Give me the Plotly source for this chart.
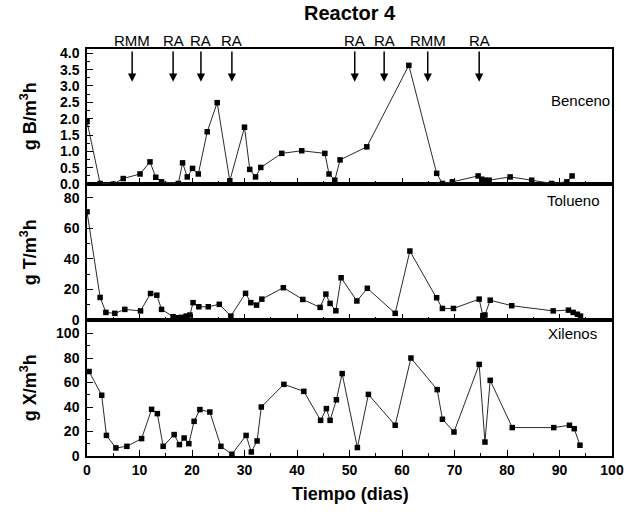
import plotly.graph_objects as go

# ---------------- data ----------------
days_b = [0, 2.5, 5.0, 6.9, 10.1, 12.0, 13.1, 14.2, 17.4, 18.2, 19.1, 20.1, 21.2, 22.9, 24.8, 27.2,
          30.0, 31.0, 32.1, 33.1, 37.1, 40.9, 45.3, 46.1, 47.2, 48.2, 53.3, 61.3, 66.6, 67.7, 69.6,
          74.5, 75.2, 75.8, 76.6, 80.6, 84.7, 88.5, 91.4, 92.4]
benceno = [1.91, 0.02, 0.0, 0.17, 0.31, 0.68, 0.21, 0.07, 0.02, 0.65, 0.22, 0.48, 0.31, 1.6, 2.49, 0.1,
           1.74, 0.45, 0.22, 0.51, 0.94, 1.02, 0.94, 0.31, 0.12, 0.74, 1.14, 3.63, 0.33, 0.02, 0.07,
           0.25, 0.15, 0.12, 0.12, 0.22, 0.12, 0.02, 0.07, 0.25]

days_t = [0, 2.5, 3.6, 5.3, 7.2, 10.2, 12.1, 13.3, 14.2, 16.4, 17.4, 18.0, 18.9, 19.6, 20.2, 21.3,
          23.1, 25.2, 27.4, 30.2, 31.2, 32.3, 33.3, 37.4, 41.1, 44.4, 45.5, 46.3, 47.4, 48.4, 51.4,
          53.4, 58.7, 61.5, 66.6, 67.7, 69.8, 74.7, 75.4, 75.8, 76.8, 80.9, 88.8, 91.7, 92.6, 93.4, 94.0]
tolueno = [70.9, 14.8, 5, 4.4, 7, 6, 17.4, 16.3, 7, 2.2, 1.5, 1.8, 2.6, 3.3, 11.4, 8.7,
           8.7, 10.3, 2.6, 17.5, 11.4, 9.8, 13.7, 21.2, 13.5, 8.3, 17, 10.9, 6.1, 27.7, 12.5,
           20.8, 4.4, 45.2, 14.6, 7.6, 7.6, 13.7, 2.9, 3.3, 13, 9.4, 6, 6.5, 5, 3.8, 2.6]

days_x = [0.4, 2.8, 3.7, 5.5, 7.6, 10.4, 12.3, 13.4, 14.5, 16.6, 17.6, 18.5, 19.4, 20.4, 21.5, 23.4,
          25.5, 27.6, 30.3, 31.3, 32.4, 33.2, 37.5, 41.3, 44.5, 45.6, 46.3, 47.5, 48.6, 51.5, 53.6,
          58.7, 61.7, 66.7, 67.7, 69.9, 74.7, 75.8, 76.8, 81.0, 88.9, 91.9, 92.8, 93.9]
xilenos = [69, 49.6, 16.8, 6.6, 7.9, 14.2, 38.1, 34.6, 7.9, 17.5, 9.3, 14.7, 10.1, 28.3, 37.9, 35.9,
           7.9, 1.4, 16.8, 3.3, 12.3, 40, 58.5, 52.8, 29.1, 38.7, 29.1, 45.9, 67.3, 6.9, 50.3,
           25.1, 80, 54.2, 30, 19.6, 74.8, 11.4, 61.8, 23.2, 23.2, 25.1, 22.3, 8.8]

event_days = [8.6, 16.4, 21.7, 27.6, 51.0, 56.6, 64.9, 74.7]
event_labels = ["RMM", "RA", "RA", "RA", "RA", "RA", "RMM", "RA"]

x_ticks = [0, 10, 20, 30, 40, 50, 60, 70, 80, 90, 100]
b_ticks = [0.0, 0.5, 1.0, 1.5, 2.0, 2.5, 3.0, 3.5, 4.0]
t_ticks = [0, 20, 40, 60, 80]
x_ticks_y = [0, 20, 40, 60, 80, 100]

# ---------------- figure ----------------
FONT = "Arial, Liberation Sans, sans-serif"
fig = go.Figure()

line_style = dict(color="#2a2a2a", width=1)
marker_style = dict(symbol="square", size=5.5, color="black")

fig.add_trace(go.Scatter(x=days_b, y=benceno, mode="lines+markers", line=line_style,
                         marker=marker_style, xaxis="x3", yaxis="y3", showlegend=False))
fig.add_trace(go.Scatter(x=days_t, y=tolueno, mode="lines+markers", line=line_style,
                         marker=marker_style, xaxis="x2", yaxis="y2", showlegend=False))
fig.add_trace(go.Scatter(x=days_x, y=xilenos, mode="lines+markers", line=line_style,
                         marker=marker_style, xaxis="x", yaxis="y", showlegend=False))

xtickfont = dict(family=FONT, size=14, color="black", weight="bold")
ytickfont = dict(family=FONT, size=14, color="black", weight="bold")
titlefont = dict(family=FONT, size=18, color="black", weight="bold")
minor_style = dict(ticks="inside", ticklen=3, tickcolor="black", tickwidth=1)

xcommon = dict(range=[0, 100], tickvals=x_ticks, ticks="inside", ticklen=6, tickwidth=1.3,
               tickcolor="black", showline=True, linecolor="black", linewidth=1.5, mirror=True,
               showgrid=False, zeroline=False, automargin=False,
               minor=dict(dtick=5, **minor_style))
ycommon = dict(ticks="inside", ticklen=6, tickwidth=1.3, tickcolor="black", showline=True,
               linecolor="black", linewidth=1.5, mirror=True, showgrid=False, zeroline=False,
               tickfont=ytickfont, automargin=False, ticklabelstandoff=3)

fig.update_layout(
    width=629, height=515,
    margin=dict(l=87, r=17, t=49, b=59),
    paper_bgcolor="white", plot_bgcolor="white",
    font=dict(family=FONT, color="black"),
    xaxis=dict(**xcommon, anchor="y", domain=[0, 1], tickfont=xtickfont),
    xaxis2=dict(**xcommon, anchor="y2", domain=[0, 1], matches="x", showticklabels=False),
    xaxis3=dict(**xcommon, anchor="y3", domain=[0, 1], matches="x", showticklabels=False),
    yaxis=dict(**ycommon, domain=[0, 0.334], range=[0, 111], tickvals=x_ticks_y,
               minor=dict(dtick=10, **minor_style)),
    yaxis2=dict(**ycommon, domain=[0.334, 0.668], range=[0, 89], tickvals=t_ticks,
                minor=dict(dtick=10, **minor_style)),
    yaxis3=dict(**ycommon, domain=[0.668, 1], range=[0, 4.13], tickvals=b_ticks,
                tickformat=".1f", minor=dict(dtick=0.25, **minor_style)),
)

annotations = []
for d, lbl in zip(event_days, event_labels):
    annotations.append(dict(x=d, y=3.13, xref="x3", yref="y3", ax=d, ay=4.1, axref="x3",
                            ayref="y3", text="", showarrow=True, arrowhead=2, arrowsize=1.1,
                            arrowwidth=1.5, arrowcolor="black"))
    annotations.append(dict(x=d, y=4.13, xref="x3", yref="y3", text=lbl, showarrow=False,
                            yanchor="bottom", yshift=-2,
                            font=dict(family=FONT, size=15, color="black")))

annotations.append(dict(x=100, y=2.55, xref="x3", yref="y3", text="Benceno", showarrow=False,
                        xanchor="right", yanchor="middle",
                        font=dict(family=FONT, size=15, color="black")))
annotations.append(dict(x=98, y=78.4, xref="x2", yref="y2", text="Tolueno", showarrow=False,
                        xanchor="right", yanchor="middle",
                        font=dict(family=FONT, size=15, color="black")))
annotations.append(dict(x=97.5, y=100.4, xref="x", yref="y", text="Xilenos", showarrow=False,
                        xanchor="right", yanchor="middle",
                        font=dict(family=FONT, size=15, color="black")))

# axis titles
ytitles = ["g B/m<sup>3</sup>h", "g T/m<sup>3</sup>h", "g X/m<sup>3</sup>h"]
ytitle_centers = [0.835, 0.501, 0.167]
for t, yc in zip(ytitles, ytitle_centers):
    annotations.append(dict(x=-0.112, y=yc, xref="paper", yref="paper", text=t, showarrow=False,
                            textangle=-90, xanchor="center", yanchor="middle", font=titlefont))
annotations.append(dict(x=0.501, y=-0.093, xref="paper", yref="paper", text="Tiempo (dias)",
                        showarrow=False, xanchor="center", yanchor="middle", font=titlefont))
annotations.append(dict(x=0.501, y=1.089, xref="paper", yref="paper", text="Reactor 4",
                        showarrow=False, xanchor="center", yanchor="middle",
                        font=dict(family=FONT, size=20, color="black", weight="bold")))
fig.update_layout(annotations=annotations)

# remove the browser's default 8px body margin so the figure fills the window exactly
fig.write_html("out.html", config={"displayModeBar": False},
               post_script="document.body.style.margin='0px';")
